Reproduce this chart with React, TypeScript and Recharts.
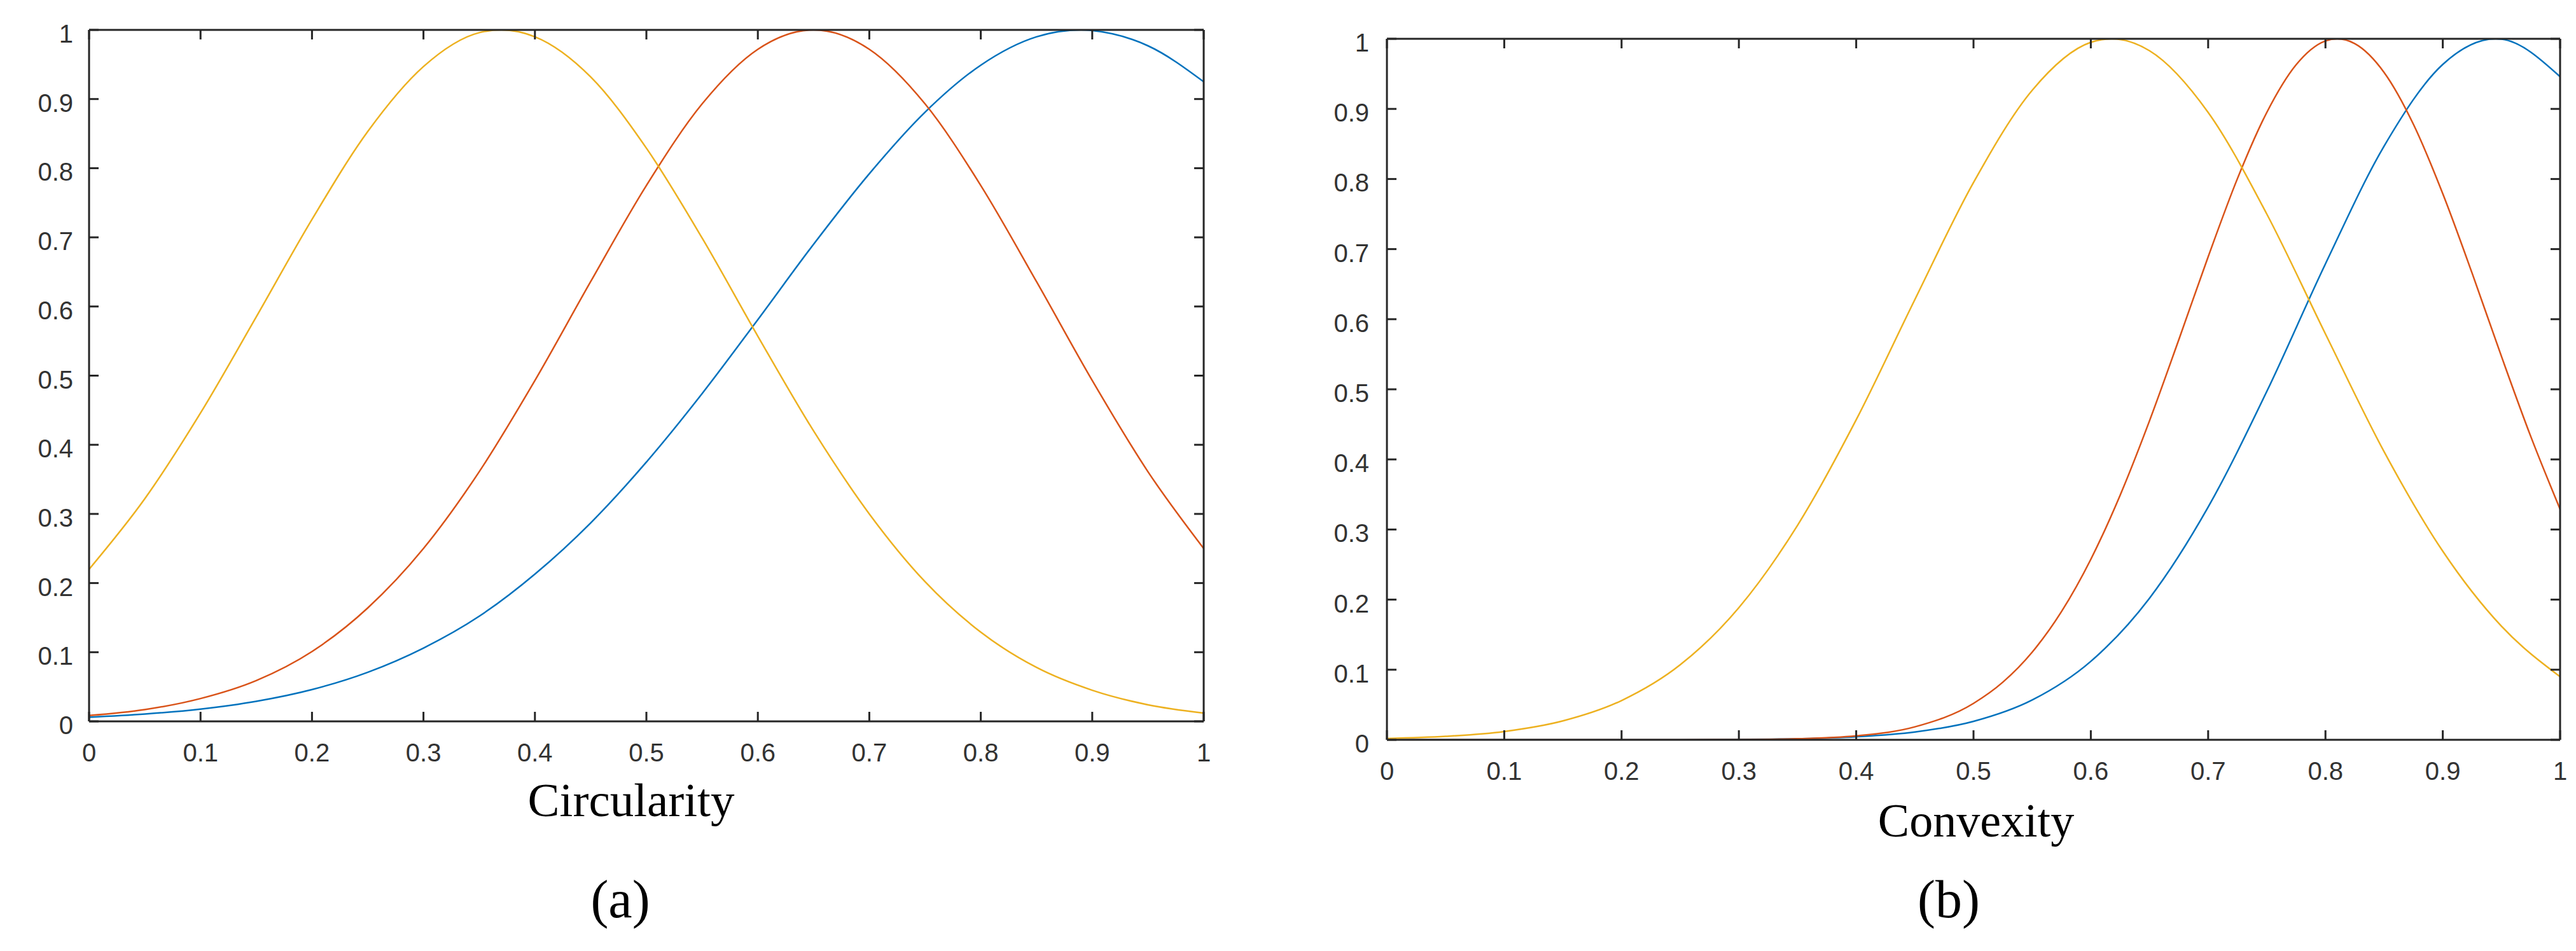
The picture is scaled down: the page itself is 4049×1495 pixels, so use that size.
import React from 'react';
import { LineChart, Line, XAxis, YAxis } from 'recharts';

// sample positions along the x axis (shared by both panels)
const xValues = [0, 0.05, 0.1, 0.15, 0.2, 0.25, 0.3, 0.35, 0.4, 0.45, 0.5, 0.55, 0.6, 0.65, 0.7, 0.75, 0.8, 0.85, 0.9, 0.95, 1];

// tick labels
const axisTicks = [0, 0.1, 0.2, 0.3, 0.4, 0.5, 0.6, 0.7, 0.8, 0.9, 1];

// panel (a): Circularity
const circBlue = [0.006, 0.0106, 0.0178, 0.029, 0.046, 0.071, 0.106, 0.152, 0.213, 0.287, 0.375, 0.474, 0.581, 0.69, 0.792, 0.881, 0.949, 0.99, 0.999, 0.977, 0.925];
const circRed = [0.0084, 0.017, 0.033, 0.059, 0.101, 0.164, 0.25, 0.361, 0.493, 0.636, 0.775, 0.893, 0.972, 1.0, 0.972, 0.893, 0.775, 0.636, 0.493, 0.361, 0.25];
const circYellow = [0.22, 0.322, 0.446, 0.585, 0.726, 0.853, 0.947, 0.996, 0.99, 0.932, 0.829, 0.699, 0.557, 0.42, 0.3, 0.202, 0.129, 0.078, 0.045, 0.024, 0.012];
// extra points read at the peaks
const circBlueExtraX = [0.89];
const circBlueExtraY = [1];
const circRedExtraX: number[] = [];
const circRedExtraY: number[] = [];
const circYellowExtraX = [0.37];
const circYellowExtraY = [1];

// panel (b): Convexity
const convBlue = [0, 0, 0, 0, 0, 0.0001, 0.0005, 0.0015, 0.0043, 0.0111, 0.0263, 0.0568, 0.112, 0.202, 0.332, 0.497, 0.679, 0.847, 0.9635, 0.9995, 0.946];
const convRed = [0, 0, 0, 0, 0, 0.0001, 0.0003, 0.0015, 0.0057, 0.0185, 0.052, 0.125, 0.2575, 0.455, 0.689, 0.895, 0.997, 0.952, 0.779, 0.547, 0.329];
const convYellow = [0.0018, 0.0049, 0.0119, 0.027, 0.056, 0.107, 0.1885, 0.306, 0.4565, 0.628, 0.795, 0.9265, 0.995, 0.983, 0.895, 0.75, 0.579, 0.411, 0.269, 0.162, 0.09];
// extra points (peaks, and finer readings along the narrow red curve)
const convBlueExtraX = [0.945];
const convBlueExtraY = [1];
const convRedExtraX = [0.525, 0.575, 0.625, 0.675, 0.725, 0.775, 0.81, 0.825, 0.875, 0.925, 0.975];
const convRedExtraY = [0.0822, 0.1829, 0.349, 0.5708, 0.8007, 0.963, 1, 0.9931, 0.878, 0.6657, 0.4327];
const convYellowExtraX = [0.618];
const convYellowExtraY = [1];

function series(ys: number[], ex: number[], ey: number[]) {
  const pts = xValues.map((x, i) => ({ x, y: ys[i] }));
  ex.forEach((x, i) => {
    if (!xValues.some((v) => Math.abs(v - x) < 1e-9)) pts.push({ x, y: ey[i] });
  });
  return pts.sort((a, b) => a.x - b.x);
}

const circSeries = {
  blue: series(circBlue, circBlueExtraX, circBlueExtraY),
  red: series(circRed, circRedExtraX, circRedExtraY),
  yellow: series(circYellow, circYellowExtraX, circYellowExtraY),
};
const convSeries = {
  blue: series(convBlue, convBlueExtraX, convBlueExtraY),
  red: series(convRed, convRedExtraX, convRedExtraY),
  yellow: series(convYellow, convYellowExtraX, convYellowExtraY),
};

const BLUE = '#0072BD';
const RED = '#D95319';
const YELLOW = '#EDB120';
const AXIS = '#262626';
const TICK_LEN = 15;
const FONT = '"Liberation Sans", Arial, Helvetica, sans-serif';
const lineStyle = { stroke: AXIS, strokeWidth: 3 };
const fmt = (v: number) => String(v);

const BottomTick = (p: any) => (
  <g>
    <line x1={p.x} x2={p.x} y1={p.y} y2={p.y - TICK_LEN} stroke={AXIS} strokeWidth={3} />
    <text x={p.x} y={p.y + 63} textAnchor="middle" fontFamily={FONT} fontSize={40} fill="#333333">{fmt(p.payload.value)}</text>
  </g>
);
const TopTick = (p: any) => (
  <line x1={p.x} x2={p.x} y1={p.y} y2={p.y + TICK_LEN} stroke={AXIS} strokeWidth={3} />
);
const makeLeftTick = (gap: number) => (p: any) => (
  <g>
    <line x1={p.x} x2={p.x + TICK_LEN} y1={p.y} y2={p.y} stroke={AXIS} strokeWidth={3} />
    <text x={p.x - gap} y={p.y + 20} textAnchor="end" fontFamily={FONT} fontSize={40} fill="#333333">{fmt(p.payload.value)}</text>
  </g>
);
const RightTick = (p: any) => (
  <line x1={p.x} x2={p.x - TICK_LEN} y1={p.y} y2={p.y} stroke={AXIS} strokeWidth={3} />
);

function Panel({ s, width, height, top, right, yGap }: any) {
  const LeftTick = makeLeftTick(yGap);
  return (
    <LineChart width={width} height={height} margin={{ top: top - 1, right, bottom: 0, left: 0 }}>
      <XAxis xAxisId="b" dataKey="x" type="number" domain={[0, 1]} ticks={axisTicks} interval={0}
        height={100} tickSize={0} tickMargin={0} axisLine={lineStyle} tickLine={false}
        tick={BottomTick} allowDataOverflow />
      <XAxis xAxisId="t" orientation="top" dataKey="x" type="number" domain={[0, 1]} ticks={axisTicks} interval={0}
        height={1} tickSize={0} tickMargin={0} axisLine={lineStyle} tickLine={false}
        tick={TopTick} allowDataOverflow />
      <YAxis yAxisId="l" type="number" domain={[0, 1]} ticks={axisTicks} interval={0}
        width={140} tickSize={0} tickMargin={0} axisLine={lineStyle} tickLine={false}
        tick={LeftTick} allowDataOverflow />
      <YAxis yAxisId="r" orientation="right" type="number" domain={[0, 1]} ticks={axisTicks} interval={0}
        width={1} tickSize={0} tickMargin={0} axisLine={lineStyle} tickLine={false}
        tick={RightTick} allowDataOverflow />
      <Line xAxisId="b" yAxisId="l" data={s.blue} type="monotoneX" dataKey="y" stroke={BLUE} strokeWidth={2.5} dot={false} isAnimationActive={false} />
      <Line xAxisId="b" yAxisId="l" data={s.red} type="monotoneX" dataKey="y" stroke={RED} strokeWidth={2.5} dot={false} isAnimationActive={false} />
      <Line xAxisId="b" yAxisId="l" data={s.yellow} type="monotoneX" dataKey="y" stroke={YELLOW} strokeWidth={2.5} dot={false} isAnimationActive={false} />
    </LineChart>
  );
}

const serif = '"Liberation Serif", "Times New Roman", Times, serif';

export default function App() {
  return (
    <div style={{ position: 'absolute', left: 0, top: 0, width: 4049, height: 1495, background: '#ffffff', overflow: 'hidden' }}>
      <div style={{ position: 'absolute', left: 0, top: 0 }}>
        <Panel s={circSeries} width={1950} height={1234} top={47} right={57} yGap={25} />
      </div>
      <div style={{ position: 'absolute', left: 2040, top: 0 }}>
        <Panel s={convSeries} width={2009} height={1263} top={61} right={24} yGap={28} />
      </div>
      <svg width={4049} height={1495} style={{ position: 'absolute', left: 0, top: 0, pointerEvents: 'none' }}>
        <text x={992} y={1283} textAnchor="middle" fontFamily={serif} fontSize={75} fill="#000">Circularity</text>
        <text x={975} y={1442} textAnchor="middle" fontFamily={serif} fontSize={84} fill="#000">(a)</text>
        <text x={3106} y={1315} textAnchor="middle" fontFamily={serif} fontSize={74} fill="#000">Convexity</text>
        <text x={3063} y={1442} textAnchor="middle" fontFamily={serif} fontSize={84} fill="#000">(b)</text>
      </svg>
    </div>
  );
}
